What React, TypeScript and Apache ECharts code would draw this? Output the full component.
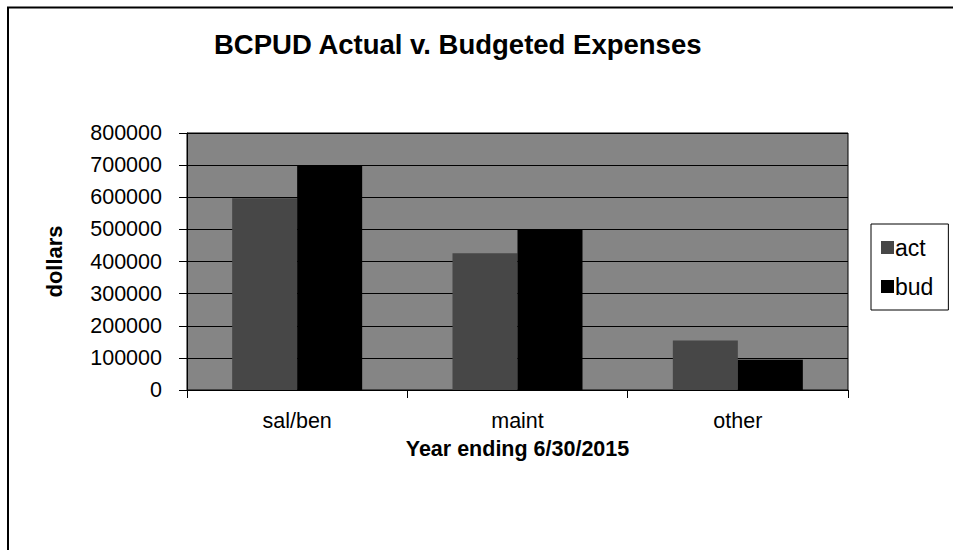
import React, { useEffect, useRef } from "react";
import * as echarts from "echarts";

const categories = ["sal/ben", "maint", "other"];
const actValues = [597000, 426000, 154000];
const budValues = [698000, 501000, 94000];
const seriesNames = ["act", "bud"];

const FONT = "'Liberation Sans', Arial, sans-serif";

export default function App() {
  const ref = useRef<HTMLDivElement>(null);
  useEffect(() => {
    if (!ref.current) return;
    const chart = echarts.init(ref.current, undefined, { renderer: "svg" });
    chart.setOption({
      animation: false,
      backgroundColor: "#ffffff",
      textStyle: { fontFamily: FONT },
      title: {
        text: "BCPUD Actual v. Budgeted Expenses",
        left: 214,
        top: 30,
        padding: 0,
        textStyle: { fontFamily: FONT, fontSize: 27.5, fontWeight: "bold", color: "#000" },
      },
      graphic: [
        {
          type: "polyline",
          shape: { points: [[8, 560], [8, 7.5], [960, 7.5]] },
          style: { stroke: "#000", lineWidth: 2, fill: null },
          silent: true,
        },
      ],
      legend: {
        orient: "vertical",
        left: 871,
        top: 224,
        padding: [12, 15, 12, 10],
        itemGap: 16,
        itemWidth: 13,
        itemHeight: 13,
        borderColor: "#000",
        borderWidth: 1,
        backgroundColor: "#fff",
        icon: "rect",
        data: seriesNames,
        textStyle: { fontFamily: FONT, fontSize: 23, color: "#000", padding: [0, 0, 0, -4] },
      },
      grid: {
        left: 187,
        right: 105,
        top: 133,
        bottom: 160,
        show: true,
        backgroundColor: "#858585",
        borderColor: "#000",
        borderWidth: 1,
      },
      xAxis: {
        type: "category",
        data: categories,
        name: "Year ending 6/30/2015",
        nameLocation: "middle",
        nameGap: 48,
        nameTextStyle: { fontFamily: FONT, fontSize: 21.5, fontWeight: "bold", color: "#000" },
        axisLine: { show: true, lineStyle: { color: "#000", width: 1 } },
        axisTick: { show: true, length: 8, inside: false, lineStyle: { color: "#000" } },
        axisLabel: { fontFamily: FONT, fontSize: 21.5, color: "#000", margin: 20 },
        splitLine: { show: false },
      },
      yAxis: {
        type: "value",
        min: 0,
        max: 800000,
        interval: 100000,
        name: "dollars",
        nameLocation: "middle",
        nameGap: 122,
        nameRotate: 90,
        nameTextStyle: { fontFamily: FONT, fontSize: 22, fontWeight: "bold", color: "#000" },
        axisLine: { show: true, lineStyle: { color: "#000", width: 1 } },
        axisTick: { show: true, length: 8, inside: false, lineStyle: { color: "#000" } },
        axisLabel: {
          fontFamily: FONT,
          fontSize: 21.5,
          color: "#000",
          margin: 25,
          formatter: (v: number) => String(v),
        },
        splitLine: { show: true, lineStyle: { color: "#000", width: 1 } },
      },
      series: [
        {
          name: seriesNames[0],
          type: "bar",
          data: actValues,
          barGap: "0%",
          barCategoryGap: "41%",
          itemStyle: { color: "#474747" },
        },
        {
          name: seriesNames[1],
          type: "bar",
          data: budValues,
          barGap: "0%",
          barCategoryGap: "41%",
          itemStyle: { color: "#000000" },
        },
      ],
    });
    return () => chart.dispose();
  }, []);
  return (
    <div
      ref={ref}
      style={{ position: "fixed", left: 0, top: 0, width: 953, height: 550 }}
    />
  );
}
